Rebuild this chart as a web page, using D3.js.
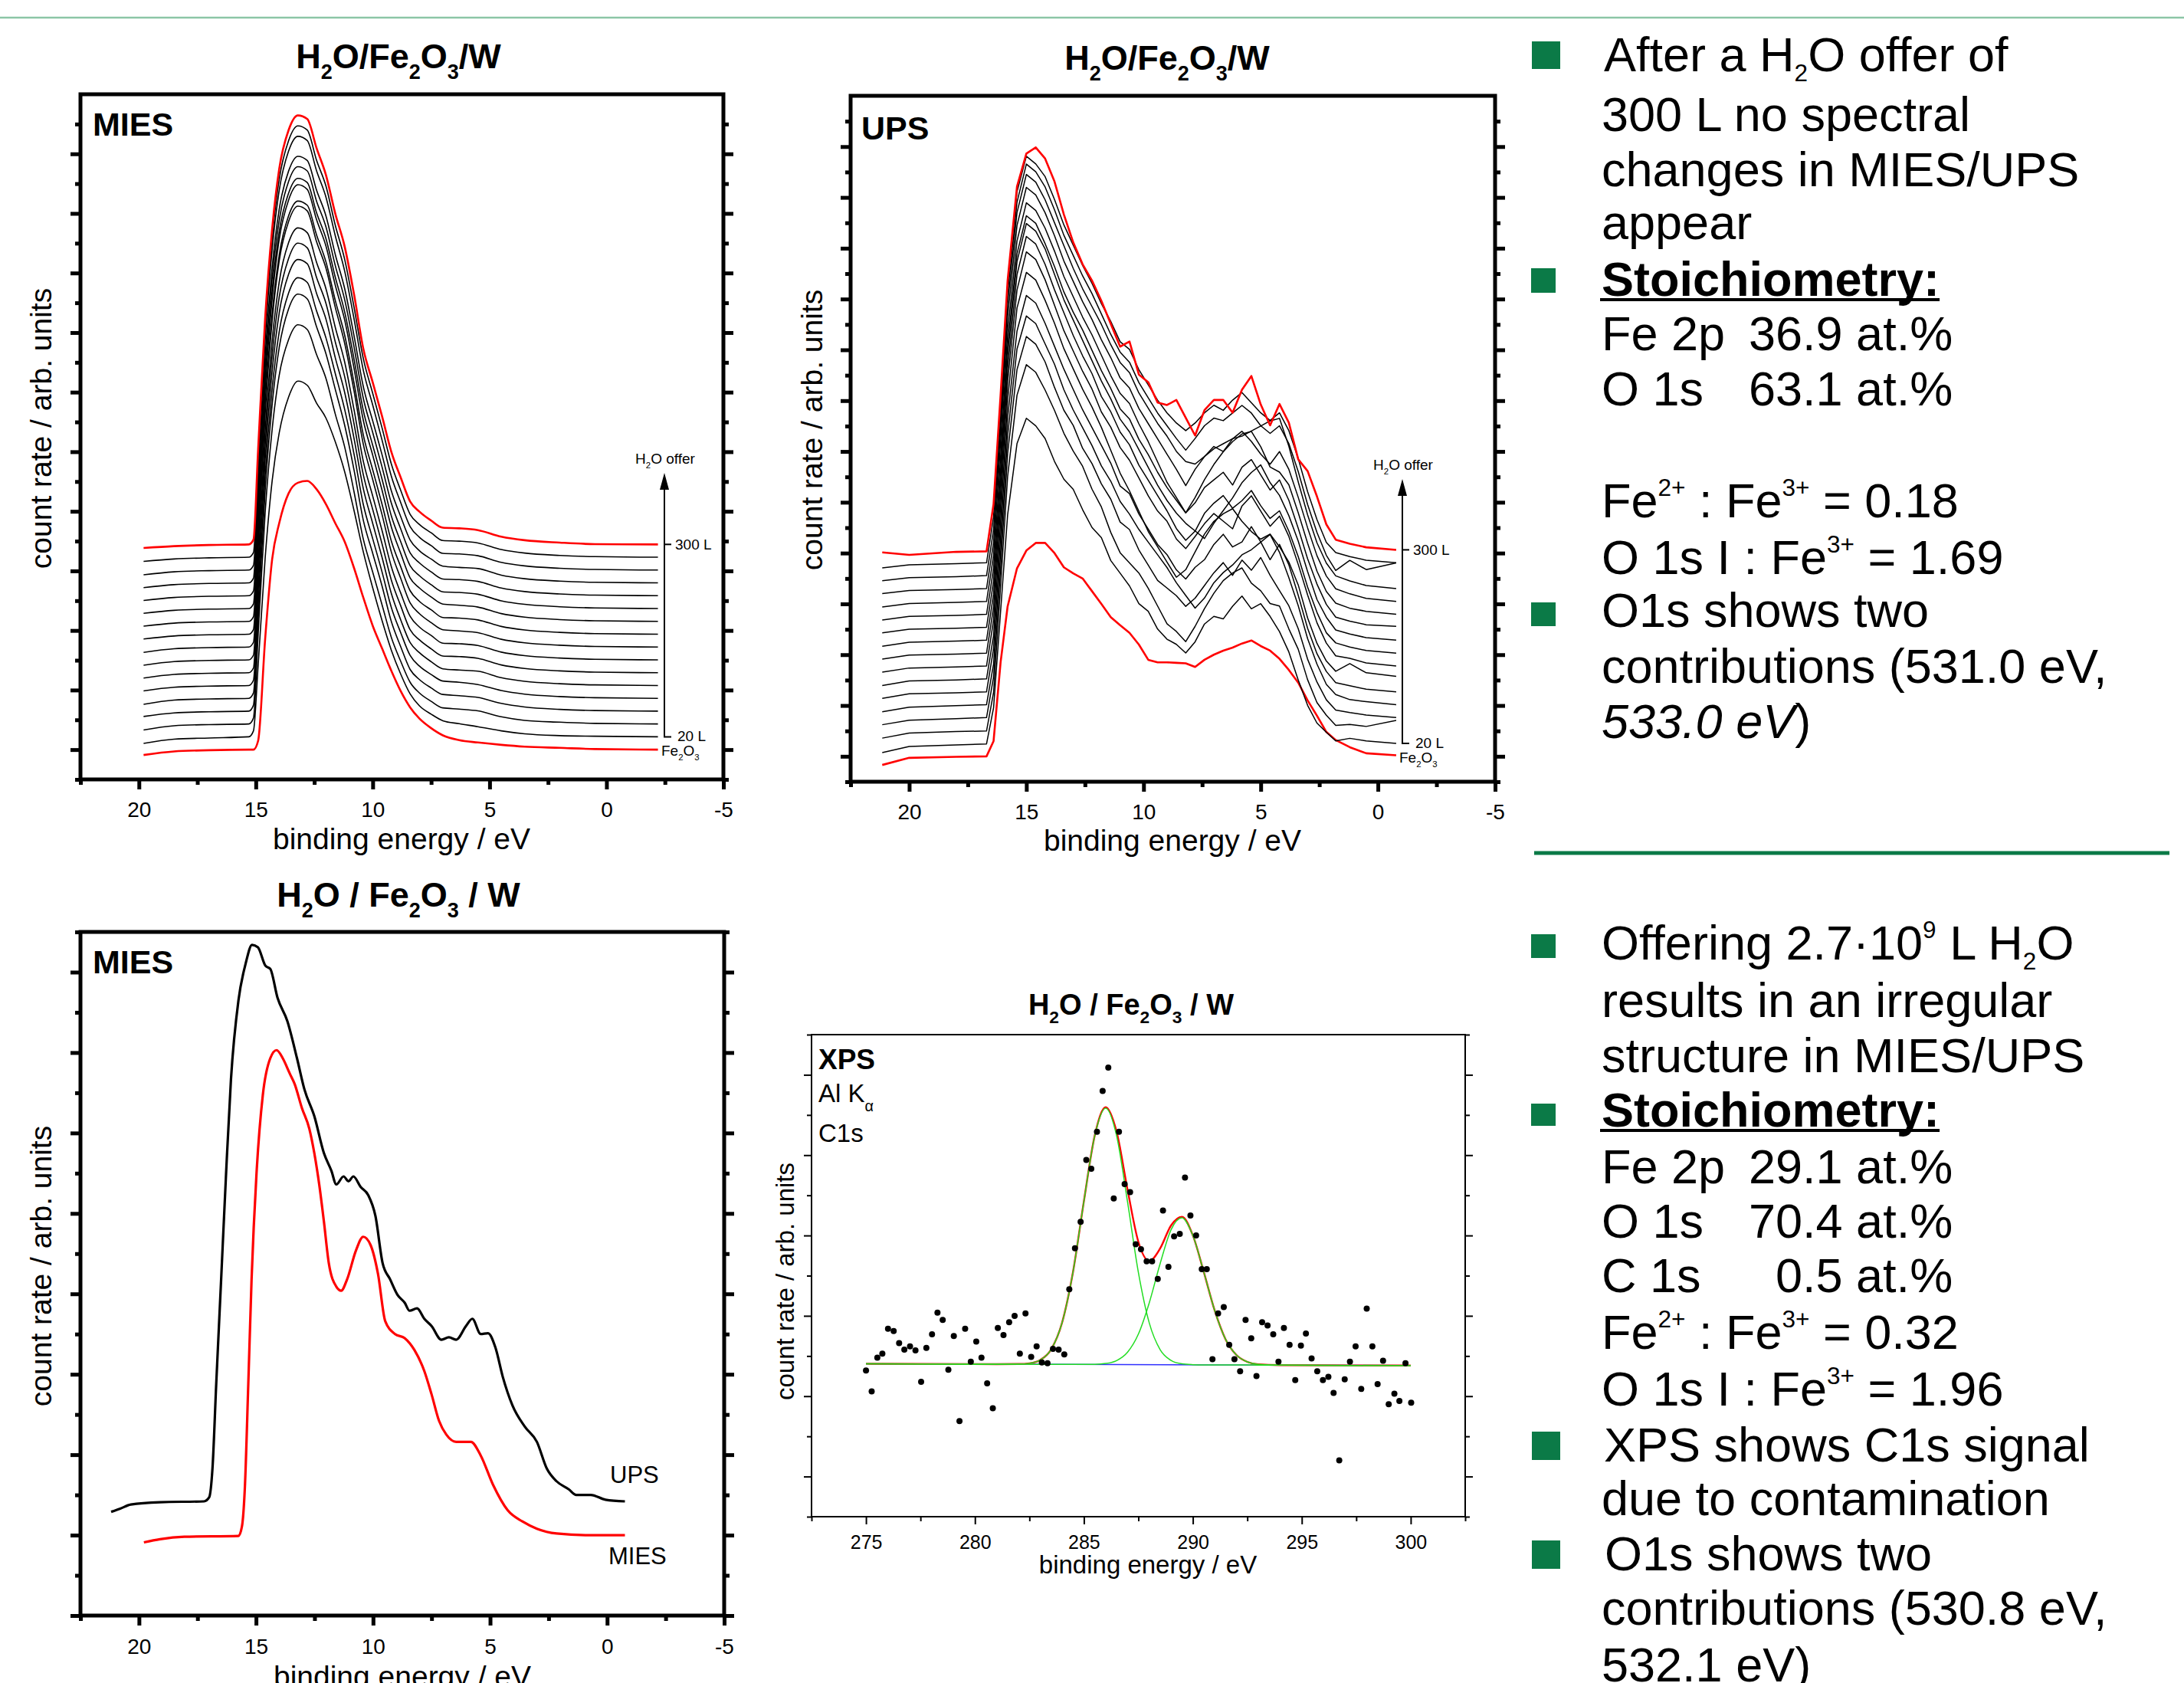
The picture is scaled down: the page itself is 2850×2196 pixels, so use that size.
<!DOCTYPE html>
<html>
<head>
<meta charset="utf-8">
<script src="https://cdn.jsdelivr.net/npm/d3@7"></script>
<style>
  html, body { margin: 0; padding: 0; background: #fff; }
  svg { display: block; }
</style>
</head>
<body>
<svg id="slide" width="2850" height="2196"></svg>
<script>
// ---------------------------------------------------------------------------
// Data: MIES series of H2O offers on Fe2O3/W (intensity above each baseline,
// in units of the major y tick); the spectra are stacked with a fixed step.
// ---------------------------------------------------------------------------
const miesEnergy = [19.8, 18.5, 17, 15.3, 15.1, 14.9, 14.6, 14.3, 14.0, 13.6, 13.2, 12.8, 12.4, 12.0, 11.6, 11.2, 10.8, 10.4, 10.0, 9.6, 9.2, 8.8, 8.4, 8.0, 7.5, 7.0, 6.3, 5.5, 4.5, 3.5, 2.0, 0.5, -2.2];
const miesFe2O3 = [-0.09, -0.03, -0.01, 0, 0, 0.15, 1.86, 3.2, 3.8, 4.3, 4.48, 4.51, 4.37, 4.12, 3.80, 3.49, 3.05, 2.55, 2.08, 1.70, 1.32, 0.98, 0.71, 0.52, 0.36, 0.24, 0.16, 0.12, 0.08, 0.05, 0.03, 0.01, 0];
const miesOffers = [
  [-0.11, -0.04, -0.02, 0, 0.1, 1.2, 3.0, 4.3, 5.1, 5.7, 5.97, 5.9, 5.6, 5.35, 4.95, 4.45, 3.8, 3.1, 2.5, 1.95, 1.45, 1.05, 0.72, 0.52, 0.38, 0.27, 0.22, 0.17, 0.1, 0.05, 0.02, 0.01, 0],
  [-0.10, -0.03, -0.01, 0, 0.1, 1.5, 3.55, 4.95, 5.85, 6.45, 6.70, 6.62, 6.2, 5.8, 5.2, 4.65, 3.9, 3.1, 2.55, 2.0, 1.45, 1.05, 0.7, 0.52, 0.38, 0.27, 0.25, 0.22, 0.12, 0.06, 0.03, 0.01, 0],
  [-0.09, -0.03, -0.01, 0, 0.1, 1.55, 3.7, 5.15, 6.1, 6.75, 7.0, 6.92, 6.45, 6.0, 5.4, 4.8, 4.05, 3.2, 2.65, 2.1, 1.5, 1.08, 0.7, 0.53, 0.39, 0.28, 0.26, 0.23, 0.13, 0.07, 0.03, 0.01, 0],
  [-0.10, -0.03, -0.01, 0, 0.09, 1.55, 3.75, 5.2, 6.15, 6.8, 7.06, 6.98, 6.5, 6.05, 5.45, 4.85, 4.1, 3.25, 2.68, 2.12, 1.52, 1.1, 0.72, 0.54, 0.4, 0.29, 0.27, 0.23, 0.13, 0.07, 0.03, 0.01, 0],
  [-0.09, -0.03, -0.01, 0, 0.09, 1.58, 3.8, 5.28, 6.25, 6.9, 7.15, 7.08, 6.58, 6.15, 5.5, 4.92, 4.15, 3.3, 2.72, 2.15, 1.54, 1.1, 0.72, 0.55, 0.4, 0.28, 0.26, 0.24, 0.13, 0.07, 0.03, 0.01, 0],
  [-0.09, -0.03, -0.01, 0, 0.08, 1.6, 3.82, 5.33, 6.3, 6.95, 7.21, 7.13, 6.63, 6.2, 5.55, 4.97, 4.18, 3.32, 2.74, 2.16, 1.55, 1.12, 0.72, 0.55, 0.4, 0.28, 0.27, 0.24, 0.13, 0.07, 0.03, 0.01, 0],
  [-0.09, -0.03, -0.01, 0, 0.08, 1.6, 3.84, 5.36, 6.34, 7.0, 7.25, 7.17, 6.67, 6.23, 5.58, 5.0, 4.2, 3.33, 2.75, 2.17, 1.56, 1.12, 0.73, 0.55, 0.41, 0.28, 0.27, 0.24, 0.13, 0.07, 0.03, 0.01, 0],
  [-0.09, -0.03, -0.01, 0, 0.08, 1.63, 3.92, 5.48, 6.48, 7.14, 7.40, 7.32, 6.8, 6.36, 5.7, 5.1, 4.3, 3.4, 2.81, 2.22, 1.59, 1.15, 0.74, 0.56, 0.41, 0.29, 0.27, 0.24, 0.13, 0.07, 0.03, 0.01, 0],
  [-0.08, -0.03, -0.01, 0, 0.08, 1.6, 3.85, 5.38, 6.36, 7.02, 7.27, 7.2, 6.7, 6.25, 5.6, 5.02, 4.22, 3.34, 2.76, 2.18, 1.56, 1.13, 0.73, 0.55, 0.41, 0.28, 0.27, 0.24, 0.13, 0.07, 0.03, 0.01, 0],
  [-0.08, -0.03, -0.01, 0, 0.08, 1.61, 3.88, 5.42, 6.41, 7.07, 7.33, 7.25, 6.74, 6.3, 5.64, 5.06, 4.25, 3.37, 2.79, 2.2, 1.58, 1.14, 0.73, 0.56, 0.41, 0.29, 0.27, 0.24, 0.13, 0.07, 0.03, 0.01, 0],
  [-0.08, -0.03, -0.01, 0, 0.08, 1.59, 3.83, 5.34, 6.32, 6.97, 7.22, 7.15, 6.64, 6.21, 5.56, 4.98, 4.19, 3.32, 2.74, 2.17, 1.55, 1.12, 0.72, 0.55, 0.4, 0.28, 0.27, 0.24, 0.13, 0.07, 0.03, 0.01, 0],
  [-0.08, -0.03, -0.01, 0, 0.08, 1.58, 3.82, 5.33, 6.3, 6.95, 7.2, 7.13, 6.62, 6.19, 5.54, 4.97, 4.18, 3.31, 2.74, 2.16, 1.55, 1.12, 0.72, 0.55, 0.4, 0.28, 0.27, 0.24, 0.13, 0.07, 0.03, 0.01, 0],
  [-0.08, -0.03, -0.01, 0, 0.08, 1.58, 3.8, 5.3, 6.27, 6.91, 7.16, 7.09, 6.59, 6.16, 5.51, 4.94, 4.15, 3.29, 2.72, 2.15, 1.54, 1.11, 0.72, 0.54, 0.4, 0.28, 0.26, 0.24, 0.13, 0.07, 0.03, 0.01, 0],
  [-0.08, -0.03, -0.01, 0, 0.08, 1.6, 3.86, 5.39, 6.37, 7.03, 7.28, 7.21, 6.7, 6.26, 5.61, 5.02, 4.22, 3.35, 2.77, 2.18, 1.57, 1.13, 0.73, 0.55, 0.41, 0.28, 0.27, 0.24, 0.13, 0.07, 0.03, 0.01, 0],
  [-0.07, -0.03, -0.01, 0, 0.08, 1.6, 3.84, 5.36, 6.34, 6.99, 7.24, 7.17, 6.66, 6.23, 5.57, 5.0, 4.2, 3.33, 2.75, 2.17, 1.56, 1.12, 0.72, 0.55, 0.41, 0.28, 0.27, 0.24, 0.13, 0.07, 0.03, 0.01, 0]
];
const mies300L = [-0.06, -0.03, -0.01, 0, 0.08, 1.6, 3.8, 5.3, 6.3, 6.95, 7.2, 7.14, 6.65, 6.2, 5.55, 5.0, 4.2, 3.28, 2.72, 2.15, 1.55, 1.12, 0.72, 0.55, 0.4, 0.28, 0.27, 0.24, 0.13, 0.07, 0.03, 0.005, 0];
const miesStackStep = 0.2153;

// UPS series of the same H2O offers
const upsEnergy = [21.15, 20.0, 18.0, 16.7, 16.4, 16.1, 15.8, 15.4, 15.0, 14.6, 14.2, 13.8, 13.4, 13.0, 12.6, 12.2, 11.8, 11.4, 11.0, 10.6, 10.2, 9.8, 9.4, 9.0, 8.6, 8.2, 7.8, 7.4, 7.0, 6.6, 6.2, 5.8, 5.4, 5.0, 4.6, 4.2, 3.8, 3.4, 3.0, 2.6, 2.2, 1.8, 1.2, 0.5, -0.78];
const upsFe2O3 = [-0.17, -0.03, -0.01, 0, 0.3, 1.85, 2.95, 3.7, 4.05, 4.2, 4.2, 4.0, 3.72, 3.6, 3.5, 3.25, 3.0, 2.74, 2.58, 2.43, 2.2, 1.9, 1.85, 1.85, 1.84, 1.83, 1.76, 1.9, 2.0, 2.08, 2.14, 2.22, 2.28, 2.17, 2.08, 1.92, 1.7, 1.45, 1.1, 0.8, 0.48, 0.32, 0.18, 0.06, 0.02];
const upsOffers = [
  [-0.18, -0.06, -0.03, -0.01, 0.7, 2.6, 4.5, 5.9, 6.4, 6.25, 6.0, 5.55, 5.2, 5.0, 4.6, 4.25, 4.05, 3.6, 3.35, 3.1, 2.75, 2.6, 2.25, 2.05, 1.95, 1.78, 2.0, 2.35, 2.5, 2.45, 2.7, 2.9, 2.65, 2.75, 2.5, 2.2, 1.8, 1.25, 0.75, 0.4, 0.22, 0.05, 0.1, 0.05, 0],
  [-0.15, -0.05, -0.02, -0.01, 0.75, 2.85, 5.0, 6.6, 7.2, 7.05, 6.7, 6.3, 5.85, 5.5, 5.2, 4.75, 4.4, 3.9, 3.5, 3.3, 3.1, 2.8, 2.45, 2.1, 1.95, 1.75, 2.05, 2.4, 2.7, 2.95, 3.1, 3.2, 2.9, 2.75, 2.5, 2.45, 2.0, 1.6, 1.0, 0.55, 0.3, 0.1, 0.12, 0.08, 0.2],
  [-0.14, -0.05, -0.02, 0, 0.8, 2.95, 5.2, 6.85, 7.5, 7.35, 7.0, 6.5, 6.05, 5.75, 5.3, 5.0, 4.6, 4.3, 3.85, 3.7, 3.3, 3.0, 2.7, 2.55, 2.4, 2.19, 2.35, 2.6, 2.85, 3.05, 2.8, 3.1, 2.9, 3.15, 2.8, 2.5, 2.2, 1.75, 1.15, 0.7, 0.35, 0.15, 0.1, 0.05, 0],
  [-0.14, -0.05, -0.02, 0, 0.8, 3.0, 5.3, 7.0, 7.65, 7.5, 7.1, 6.7, 6.2, 5.8, 5.45, 5.1, 4.7, 4.4, 4.0, 3.75, 3.45, 3.2, 2.95, 2.7, 2.4, 2.15, 1.9, 2.1, 2.4, 2.6, 2.75, 2.95, 3.05, 3.2, 3.35, 3.0, 2.5, 1.95, 1.3, 0.8, 0.4, 0.2, 0.1, 0.06, 0],
  [-0.13, -0.04, -0.02, 0, 0.85, 3.05, 5.4, 7.1, 7.8, 7.65, 7.25, 6.8, 6.35, 5.95, 5.55, 5.2, 4.85, 4.5, 4.05, 3.9, 3.5, 3.2, 2.9, 2.7, 2.4, 2.22, 2.45, 2.6, 2.9, 3.1, 2.85, 2.95, 3.25, 2.95, 2.6, 2.9, 2.5, 1.9, 1.25, 0.75, 0.4, 0.18, 0.12, 0.05, 0],
  [-0.13, -0.04, -0.02, 0, 0.85, 3.1, 5.5, 7.3, 8.0, 7.85, 7.45, 7.0, 6.5, 6.1, 5.7, 5.35, 4.95, 4.5, 4.05, 3.7, 3.3, 2.9, 2.6, 2.3, 2.0, 2.15, 2.5, 2.85, 3.1, 3.25, 3.35, 3.1, 2.9, 2.75, 2.85, 2.6, 2.3, 1.85, 1.2, 0.7, 0.35, 0.15, 0.3, 0.12, 0.05],
  [-0.12, -0.04, -0.02, 0, 0.9, 3.15, 5.6, 7.4, 8.15, 8.0, 7.6, 7.1, 6.6, 6.2, 5.8, 5.45, 5.0, 4.7, 4.3, 4.05, 3.7, 3.35, 3.05, 2.85, 2.5, 2.31, 2.55, 2.8, 3.0, 2.85, 2.7, 3.15, 3.35, 3.05, 2.75, 2.95, 2.55, 2.0, 1.4, 0.85, 0.45, 0.2, 0.15, 0.06, 0],
  [-0.12, -0.04, -0.02, 0, 0.9, 3.15, 5.6, 7.45, 8.2, 8.05, 7.65, 7.15, 6.7, 6.25, 5.85, 5.5, 5.05, 4.75, 4.35, 4.1, 3.7, 3.4, 3.1, 2.8, 2.45, 2.22, 2.4, 2.75, 2.95, 3.1, 2.85, 3.0, 3.2, 2.9, 2.65, 2.8, 2.4, 1.9, 1.3, 0.8, 0.4, 0.2, 0.12, 0.05, 0],
  [-0.12, -0.04, -0.02, 0, 0.9, 3.15, 5.6, 7.45, 8.2, 8.05, 7.7, 7.2, 6.7, 6.3, 5.9, 5.5, 5.1, 4.75, 4.35, 4.1, 3.75, 3.4, 3.05, 2.75, 2.5, 2.3, 2.15, 2.0, 2.3, 2.55, 2.8, 3.1, 3.3, 3.45, 3.1, 2.85, 2.45, 1.95, 1.35, 0.8, 0.45, 0.2, 0.12, 0.05, 0],
  [-0.11, -0.04, -0.02, 0, 0.9, 3.1, 5.55, 7.35, 8.1, 7.95, 7.55, 7.1, 6.6, 6.2, 5.85, 5.45, 5.05, 4.7, 4.3, 4.1, 3.7, 3.4, 3.05, 2.75, 2.5, 2.25, 2.45, 2.75, 2.9, 3.05, 2.8, 3.15, 3.3, 3.0, 2.7, 2.9, 2.5, 1.95, 1.35, 0.85, 0.45, 0.2, 0.12, 0.05, 0.02],
  [-0.11, -0.04, -0.02, 0, 0.9, 3.1, 5.55, 7.35, 8.1, 7.95, 7.6, 7.15, 6.65, 6.25, 5.85, 5.5, 5.1, 4.7, 4.35, 4.15, 3.75, 3.4, 3.0, 2.6, 2.3, 2.0, 2.3, 2.65, 2.95, 3.2, 3.4, 3.55, 3.6, 3.3, 2.9, 2.8, 2.55, 2.0, 1.4, 0.85, 0.45, 0.22, 0.12, 0.06, 0],
  [-0.11, -0.04, -0.02, 0, 0.9, 3.15, 5.6, 7.4, 8.15, 8.0, 7.65, 7.2, 6.7, 6.3, 5.9, 5.55, 5.15, 4.8, 4.4, 4.2, 3.8, 3.5, 3.2, 2.9, 2.6, 2.28, 2.6, 2.85, 3.05, 2.95, 3.2, 3.35, 3.15, 2.9, 2.7, 2.95, 2.6, 2.05, 1.45, 0.9, 0.5, 0.25, 0.15, 0.06, 0],
  [-0.1, -0.04, -0.02, 0, 0.9, 3.15, 5.6, 7.4, 8.15, 8.0, 7.65, 7.2, 6.75, 6.3, 5.9, 5.55, 5.2, 4.8, 4.45, 4.25, 3.85, 3.55, 3.25, 3.0, 2.7, 2.5, 2.45, 2.6, 2.75, 2.85, 2.95, 3.0, 3.1, 3.2, 3.3, 3.35, 2.8, 2.1, 1.45, 0.9, 0.5, 0.25, 0.15, 0.06, 0],
  [-0.1, -0.04, -0.02, 0, 0.9, 3.1, 5.55, 7.35, 8.1, 7.95, 7.65, 7.2, 6.7, 6.3, 5.9, 5.55, 5.15, 4.75, 4.4, 4.2, 3.8, 3.5, 3.2, 2.95, 2.7, 2.47, 2.7, 2.95, 3.1, 3.05, 3.2, 3.35, 3.2, 2.95, 2.8, 2.95, 2.6, 2.05, 1.4, 0.85, 0.4, 0.1, 0.3, 0.12, 0.25],
  [-0.1, -0.04, -0.02, 0, 0.9, 3.1, 5.5, 7.3, 8.0, 7.85, 7.6, 7.15, 6.65, 6.25, 5.85, 5.5, 5.1, 4.75, 4.35, 4.2, 3.8, 3.5, 3.2, 2.95, 2.75, 2.6, 2.75, 2.95, 3.1, 3.0, 3.2, 3.35, 3.15, 2.95, 2.8, 2.95, 2.6, 2.05, 1.4, 0.85, 0.4, 0.2, 0.12, 0.05, 0]
];
const ups300L = [-0.05, -0.10, -0.04, -0.03, 0.9, 3.05, 5.3, 7.15, 7.8, 7.92, 7.7, 7.25, 6.6, 6.05, 5.62, 5.3, 4.9, 4.45, 4.0, 4.1, 3.45, 3.3, 2.9, 2.85, 2.95, 2.6, 2.25, 2.75, 2.95, 2.95, 2.7, 3.15, 3.42, 2.86, 2.45, 2.87, 2.5, 1.78, 1.55, 1.05, 0.5, 0.2, 0.12, 0.05, 0];
const upsStackStep = 0.254;

// MIES and UPS after 2.7e9 L H2O: [binding energy, intensity]
const compareUPS = [[21.19,1.29],[20.8,1.33],[20.35,1.38],[19.1,1.41],[17.22,1.42],[17.0,1.47],[16.86,1.83],[16.7,2.88],[16.49,4.18],[16.28,5.49],[16.07,6.67],[15.75,7.65],[15.44,8.11],[15.17,8.34],[14.92,8.31],[14.6,8.08],[14.39,8.04],[14.08,7.68],[13.66,7.39],[13.25,6.93],[12.93,6.54],[12.51,6.21],[12.10,5.75],[11.78,5.53],[11.57,5.36],[11.26,5.46],[11.05,5.40],[10.84,5.46],[10.53,5.33],[10.21,5.23],[9.90,4.97],[9.59,4.38],[9.27,4.18],[8.96,3.99],[8.65,3.89],[8.44,3.79],[8.12,3.82],[7.81,3.69],[7.50,3.60],[7.08,3.43],[6.76,3.46],[6.45,3.43],[6.03,3.60],[5.76,3.69],[5.40,3.50],[5.09,3.51],[4.77,3.33],[4.46,2.97],[4.04,2.61],[3.52,2.35],[3.0,2.16],[2.58,1.83],[2.16,1.67],[1.64,1.57],[1.32,1.50],[0.70,1.50],[0.07,1.44],[-0.76,1.42]];
const compareMIES = [[19.79,0.91],[19.1,0.95],[18.06,0.98],[15.75,0.99],[15.6,1.11],[15.48,1.57],[15.33,2.88],[15.19,4.18],[14.98,5.49],[14.71,6.47],[14.39,6.93],[14.12,7.03],[13.86,6.93],[13.56,6.74],[13.35,6.61],[13.04,6.31],[12.72,6.05],[12.51,5.75],[12.30,5.36],[12.10,4.90],[11.89,4.38],[11.57,4.09],[11.36,4.04],[11.11,4.18],[10.73,4.54],[10.42,4.71],[10.11,4.61],[9.79,4.25],[9.48,3.66],[9.06,3.50],[8.65,3.45],[8.23,3.30],[7.81,3.04],[7.50,2.75],[7.18,2.42],[6.87,2.25],[6.45,2.16],[5.82,2.16],[5.40,1.99],[4.88,1.63],[4.25,1.31],[3.62,1.17],[3.0,1.08],[2.16,1.02],[0.91,1.0],[-0.76,1.0]];

// XPS C1s: measured points and fit (background, two components, sum)
const xpsEnergy = [275.00, 275.26, 275.52, 275.75, 276.01, 276.27, 276.52, 276.76, 277.02, 277.27, 277.53, 277.77, 278.03, 278.28, 278.52, 278.78, 279.03, 279.29, 279.55, 279.81, 280.06, 280.30, 280.56, 280.82, 281.05, 281.31, 281.57, 281.82, 282.06, 282.32, 282.58, 282.83, 283.07, 283.33, 283.58, 283.84, 284.10, 284.33, 284.59, 284.85, 285.11, 285.34, 285.60, 285.86, 286.12, 286.37, 286.61, 286.87, 287.12, 287.38, 287.62, 287.88, 288.13, 288.39, 288.63, 288.88, 289.14, 289.40, 289.64, 289.89, 290.15, 290.41, 290.64, 290.90, 291.16, 291.42, 291.67, 291.91, 292.17, 292.42, 292.68, 292.92, 293.18, 293.43, 293.69, 293.93, 294.18, 294.44, 294.70, 294.96, 295.19, 295.45, 295.71, 295.97, 296.22, 296.46, 296.72, 296.97, 297.21, 297.47, 297.73, 297.98, 298.24, 298.48, 298.73, 298.99, 299.25, 299.48, 299.76, 300.02];
const xpsCounts = [1.32, 1.06, 1.48, 1.53, 1.84, 1.81, 1.66, 1.58, 1.62, 1.57, 1.18, 1.60, 1.77, 2.04, 1.95, 1.33, 1.75, 0.69, 1.84, 1.43, 1.68, 1.48, 1.16, 0.85, 1.85, 1.76, 1.92, 2.00, 1.53, 2.03, 1.49, 1.62, 1.42, 1.41, 1.59, 1.58, 1.52, 2.33, 2.84, 3.17, 3.94, 3.83, 4.29, 4.80, 5.09, 3.46, 4.29, 3.64, 3.54, 2.89, 2.83, 2.68, 2.68, 2.46, 3.31, 2.61, 2.99, 3.02, 3.72, 3.25, 3.00, 2.58, 2.58, 1.46, 2.03, 2.11, 1.64, 1.46, 1.31, 1.95, 1.72, 1.25, 1.92, 1.88, 1.77, 1.43, 1.85, 1.64, 1.20, 1.63, 1.78, 1.47, 1.31, 1.20, 1.24, 1.04, 0.20, 1.21, 1.43, 1.62, 1.09, 2.09, 1.62, 1.15, 1.44, 0.90, 1.03, 0.94, 1.41, 0.92];
const fitEnergy = [275, 281, 282, 282.5, 283, 283.5, 284, 284.5, 285, 285.5, 286, 286.5, 287, 287.5, 288, 288.5, 289, 289.5, 290, 290.5, 291, 291.5, 292, 292.5, 293, 294, 300];
const fitPeak1 = [1.404, 1.398, 1.400, 1.409, 1.451, 1.584, 1.916, 2.545, 3.425, 4.244, 4.584, 4.243, 3.423, 2.542, 1.912, 1.579, 1.445, 1.402, 1.392, 1.389, 1.389, 1.389, 1.388, 1.388, 1.387, 1.386, 1.381];
const fitPeak2 = [1.404, 1.398, 1.398, 1.397, 1.397, 1.396, 1.396, 1.395, 1.396, 1.397, 1.407, 1.443, 1.546, 1.772, 2.162, 2.651, 3.071, 3.220, 3.000, 2.549, 2.069, 1.709, 1.513, 1.427, 1.397, 1.387, 1.381];
const fitSum = [1.404, 1.398, 1.400, 1.409, 1.451, 1.584, 1.916, 2.545, 3.426, 4.247, 4.597, 4.293, 3.576, 2.922, 2.682, 2.839, 3.125, 3.232, 3.002, 2.549, 2.069, 1.709, 1.513, 1.427, 1.397, 1.387, 1.381];
const fitBackground = [[275, 1.404], [300, 1.381]];

// Axis ticks
const beMajor = [20, 15, 10, 5, 0, -5];
const beMinor = [22.5, 17.5, 12.5, 7.5, 2.5, -2.5];
const xpsMajor = [275, 280, 285, 290, 295, 300];
const xpsMinor = [272.5, 277.5, 282.5, 287.5, 292.5, 297.5, 302.5];

// ---------------------------------------------------------------------------
const FONT = '"Liberation Sans", Arial, Helvetica, sans-serif';
const GREEN = '#0b7a47';
const svg = d3.select('#slide').attr('font-family', FONT);

// text with sub/superscript and italic runs
function rich(g, x, y, parts, size, opt = {}) {
  const t = g.append('text').attr('x', x).attr('y', y).attr('font-size', size)
    .attr('fill', '#000').attr('font-family', FONT);
  if (opt.anchor) t.attr('text-anchor', opt.anchor);
  if (opt.weight) t.attr('font-weight', opt.weight);
  const sub = opt.sub || [0.6, 0.3], sup = opt.sup || [0.5, -0.45];
  let shift = 0;
  parts.forEach(p => {
    const [s, kind] = Array.isArray(p) ? p : [p, null];
    let target = 0, fs = size;
    if (kind === 'sub') { target = size * sub[1]; fs = size * sub[0]; }
    if (kind === 'sup') { target = size * sup[1]; fs = size * sup[0]; }
    const ts = t.append('tspan').text(s).attr('font-size', fs);
    if (target - shift !== 0) ts.attr('dy', target - shift);
    if (kind === 'i') ts.attr('font-style', 'italic');
    shift = target;
  });
  return t;
}

// framed plot with outward major/minor ticks on bottom, left and right
function framedAxes(cfg) {
  const x = d3.scaleLinear().domain(cfg.xDomain).range([cfg.x0, cfg.x1]);
  const y = d3.scaleLinear().domain(cfg.yDomain).range([cfg.y1, cfg.y0]);
  const g = svg.append('g');
  const styleTicks = s => {
    s.attr('font-family', FONT);
    s.select('.domain').remove();
    s.selectAll('line').attr('stroke', '#000').attr('stroke-width', cfg.lw);
  };
  g.append('g').attr('transform', `translate(0,${cfg.y1})`)
    .call(d3.axisBottom(x).tickValues(cfg.xMajor).tickSize(cfg.majLen).tickFormat(d => String(d)))
    .call(styleTicks)
    .call(s => s.selectAll('text').attr('y', cfg.labelY - cfg.y1).attr('dy', null)
      .attr('font-size', cfg.tickFont).attr('fill', '#000'));
  g.append('g').attr('transform', `translate(0,${cfg.y1})`)
    .call(d3.axisBottom(x).tickValues(cfg.xMinor).tickSize(cfg.minLen).tickFormat(''))
    .call(styleTicks);
  [[d3.axisLeft, cfg.x0], [d3.axisRight, cfg.x1]].forEach(([ax, pos]) => {
    g.append('g').attr('transform', `translate(${pos},0)`)
      .call(ax(y).tickValues(cfg.yMajor).tickSize(cfg.majLen).tickFormat(''))
      .call(styleTicks);
    g.append('g').attr('transform', `translate(${pos},0)`)
      .call(ax(y).tickValues(cfg.yMinor).tickSize(cfg.minLen).tickFormat(''))
      .call(styleTicks);
  });
  g.append('rect').attr('x', cfg.x0).attr('y', cfg.y0)
    .attr('width', cfg.x1 - cfg.x0).attr('height', cfg.y1 - cfg.y0)
    .attr('fill', 'none').attr('stroke', '#000').attr('stroke-width', cfg.lw);
  return { x, y, g };
}

function halfSteps(a, b) { const out = []; for (let v = a; v <= b + 1e-9; v += 1) out.push(v); return out; }

// stacked spectra panel (MIES / UPS)
function stackedPanel(cfg, energy, bottom, offers, top, step, curve, blackW, redW) {
  const { x, y, g } = framedAxes(cfg);
  const line = offs => d3.line().curve(curve).x(d => x(d[0])).y(d => y(d[1] + offs));
  const draw = (vals, k, color, w) => g.append('path')
    .attr('d', line(k * step)(d3.zip(energy, vals)))
    .attr('fill', 'none').attr('stroke', color).attr('stroke-width', w).attr('stroke-linejoin', 'round');
  draw(bottom, 0, '#ff0000', redW);
  offers.forEach((vals, i) => draw(vals, i + 1, '#000', blackW));
  draw(top, offers.length + 1, '#ff0000', redW);
  return { x, y, g };
}

// ---------------------------------------------------------------------------
// slide header rule
svg.append('line').attr('x1', 0).attr('x2', 2850).attr('y1', 23).attr('y2', 23)
  .attr('stroke', '#8cc6a6').attr('stroke-width', 2.5);

// ----- Panel A: MIES stack -----
const cfgA = { x0: 105, x1: 944, y0: 123, y1: 1017, xDomain: [22.5, -5], yDomain: [-0.5, 11],
  xMajor: beMajor, xMinor: beMinor, yMajor: halfSteps(0, 10), yMinor: halfSteps(-0.5, 10.5),
  lw: 5, majLen: 13, minLen: 7, tickFont: 28, labelY: 1066 };
const A = stackedPanel(cfgA, miesEnergy, miesFe2O3, miesOffers, mies300L, miesStackStep, d3.curveMonotoneX, 1.6, 2.6);
rich(svg, 520, 89, ['H', ['2', 'sub'], 'O/Fe', ['2', 'sub'], 'O', ['3', 'sub'], '/W'], 45, { anchor: 'middle', weight: 'bold' });
rich(svg, 121, 177, ['MIES'], 43, { weight: 'bold' });
rich(svg, 524, 1108, ['binding energy / eV'], 39, { anchor: 'middle' });
rich(svg, 0, 0, ['count rate / arb. units'], 39, { anchor: 'middle' }).attr('transform', 'translate(67,559) rotate(-90)');

// ----- Panel B: UPS stack -----
const cfgB = { x0: 1110, x1: 1951, y0: 125, y1: 1020, xDomain: [22.5, -5], yDomain: [-0.5, 13],
  xMajor: beMajor, xMinor: beMinor, yMajor: halfSteps(0, 12), yMinor: halfSteps(-0.5, 12.5),
  lw: 5, majLen: 13, minLen: 7, tickFont: 28, labelY: 1069 };
const B = stackedPanel(cfgB, upsEnergy, upsFe2O3, upsOffers, ups300L, upsStackStep, d3.curveLinear, 1.5, 2.6);
rich(svg, 1523, 91, ['H', ['2', 'sub'], 'O/Fe', ['2', 'sub'], 'O', ['3', 'sub'], '/W'], 45, { anchor: 'middle', weight: 'bold' });
rich(svg, 1124, 182, ['UPS'], 43, { weight: 'bold' });
rich(svg, 1530, 1110, ['binding energy / eV'], 39, { anchor: 'middle' });
rich(svg, 0, 0, ['count rate / arb. units'], 39, { anchor: 'middle' }).attr('transform', 'translate(1073,561) rotate(-90)');

// offer arrows (from first offer to 300 L)
function offerArrow(P, ax, bottomIdx, topIdx, step, lab) {
  const g = svg.append('g');
  const yTop = P.y(topIdx * step), yBot = P.y(bottomIdx * step);
  g.append('path').attr('d', `M${ax + 9},${yBot} H${ax} V${lab.tipY + 20}`)
    .attr('fill', 'none').attr('stroke', '#000').attr('stroke-width', 2);
  g.append('path').attr('d', `M${ax},${lab.tipY} L${ax - 6},${lab.tipY + 22} L${ax + 6},${lab.tipY + 22} Z`).attr('fill', '#000');
  g.append('line').attr('x1', ax).attr('x2', ax + 9).attr('y1', yTop).attr('y2', yTop)
    .attr('stroke', '#000').attr('stroke-width', 2);
  rich(g, ax + 14, yTop + 7, ['300 L'], 19);
  rich(g, ax + 17, yBot + 6, ['20 L'], 19);
  rich(g, ax - 4, yBot + 25, ['Fe', ['2', 'sub'], 'O', ['3', 'sub']], 19);
  rich(g, ax + 1, lab.tipY - 12, ['H', ['2', 'sub'], 'O offer'], 19, { anchor: 'middle' });
}
offerArrow(A, 867, 1, 16, miesStackStep, { tipY: 617 });
offerArrow(B, 1830, 1, 16, upsStackStep, { tipY: 625 });

// ----- Panel C: MIES vs UPS after large H2O exposure -----
const cfgC = { x0: 105, x1: 945, y0: 1216, y1: 2108, xDomain: [22.5, -5], yDomain: [0, 8.5],
  xMajor: beMajor, xMinor: beMinor, yMajor: halfSteps(0, 8), yMinor: halfSteps(0.5, 8.5),
  lw: 5, majLen: 13, minLen: 7, tickFont: 28, labelY: 2158 };
const C = framedAxes(cfgC);
const lineC = d3.line().curve(d3.curveMonotoneX).x(d => C.x(d[0])).y(d => C.y(d[1]));
C.g.append('path').attr('d', lineC(compareUPS)).attr('fill', 'none').attr('stroke', '#000').attr('stroke-width', 3.2);
C.g.append('path').attr('d', lineC(compareMIES)).attr('fill', 'none').attr('stroke', '#ff0000').attr('stroke-width', 3.2);
rich(svg, 520, 1183, ['H', ['2', 'sub'], 'O / Fe', ['2', 'sub'], 'O', ['3', 'sub'], ' / W'], 45, { anchor: 'middle', weight: 'bold' });
rich(svg, 121, 1270, ['MIES'], 43, { weight: 'bold' });
rich(svg, 796, 1935, ['UPS'], 31);
rich(svg, 794, 2041, ['MIES'], 31);
rich(svg, 525, 2201, ['binding energy / eV'], 39, { anchor: 'middle' });
rich(svg, 0, 0, ['count rate / arb. units'], 39, { anchor: 'middle' }).attr('transform', 'translate(67,1652) rotate(-90)');

// ----- Panel D: XPS C1s -----
const cfgD = { x0: 1059, x1: 1912, y0: 1350, y1: 1979, xDomain: [272.5, 302.5], yDomain: [-0.5, 5.5],
  xMajor: xpsMajor, xMinor: xpsMinor, yMajor: halfSteps(0, 5), yMinor: halfSteps(-0.5, 5.5),
  lw: 2, majLen: 10, minLen: 6, tickFont: 25, labelY: 2021 };
const D = framedAxes(cfgD);
const lineD = d3.line().curve(d3.curveMonotoneX).x(d => D.x(d[0])).y(d => D.y(d[1]));
D.g.append('path').attr('d', lineD(fitBackground)).attr('fill', 'none').attr('stroke', '#3030ff').attr('stroke-width', 1.5);
D.g.append('path').attr('d', lineD(d3.zip(fitEnergy, fitSum))).attr('fill', 'none').attr('stroke', '#ff0000').attr('stroke-width', 2.4);
D.g.append('path').attr('d', lineD(d3.zip(fitEnergy, fitPeak1))).attr('fill', 'none').attr('stroke', '#22dd22').attr('stroke-width', 1.5);
D.g.append('path').attr('d', lineD(d3.zip(fitEnergy, fitPeak2))).attr('fill', 'none').attr('stroke', '#22dd22').attr('stroke-width', 1.5);
D.g.selectAll('circle.pt').data(d3.zip(xpsEnergy, xpsCounts)).join('circle')
  .attr('class', 'pt').attr('cx', d => D.x(d[0])).attr('cy', d => D.y(d[1])).attr('r', 4).attr('fill', '#000');
rich(svg, 1476, 1324, ['H', ['2', 'sub'], 'O / Fe', ['2', 'sub'], 'O', ['3', 'sub'], ' / W'], 38, { anchor: 'middle', weight: 'bold' });
rich(svg, 1068, 1395, ['XPS'], 37, { weight: 'bold' });
rich(svg, 1068, 1438, ['Al K', ['\u03b1', 'sub']], 33, { sub: [0.6, 0.35] });
rich(svg, 1068, 1490, ['C1s'], 33);
rich(svg, 1498, 2053, ['binding energy / eV'], 33, { anchor: 'middle' });
rich(svg, 0, 0, ['count rate / arb. units'], 33, { anchor: 'middle' }).attr('transform', 'translate(1036,1672) rotate(-90)');

// ----- Text column -----
const bullets = [
  { x: 1999, y: 54, w: 37, h: 36 }, { x: 1998, y: 350, w: 32, h: 32 }, { x: 1998, y: 786, w: 32, h: 31 },
  { x: 1998, y: 1219, w: 32, h: 31 }, { x: 1998, y: 1440, w: 32, h: 29 }, { x: 1999, y: 1868, w: 37, h: 37 },
  { x: 1999, y: 2010, w: 37, h: 37 }
];
svg.append('g').selectAll('rect').data(bullets).join('rect')
  .attr('x', d => d.x).attr('y', d => d.y).attr('width', d => d.w).attr('height', d => d.h).attr('fill', GREEN);

const textLines = [
  { x: 2093, y: 93, parts: ['After a H', ['2', 'sub'], 'O offer of'] },
  { x: 2090, y: 171, parts: ['300 L no spectral'] },
  { x: 2090, y: 243, parts: ['changes in MIES/UPS'] },
  { x: 2090, y: 312, parts: ['appear'] },
  { x: 2090, y: 386, parts: ['Stoichiometry:'], bold: true },
  { x: 2090, y: 457, parts: ['Fe 2p'] }, { x: 2282, y: 457, parts: ['36.9 at.%'] },
  { x: 2090, y: 529, parts: ['O 1s'] }, { x: 2282, y: 529, parts: ['63.1 at.%'] },
  { x: 2090, y: 675, parts: ['Fe', ['2+', 'sup'], ' : Fe', ['3+', 'sup'], ' = 0.18'] },
  { x: 2090, y: 749, parts: ['O 1s I : Fe', ['3+', 'sup'], ' = 1.69'] },
  { x: 2090, y: 818, parts: ['O1s shows two'] },
  { x: 2090, y: 891, parts: ['contributions (531.0 eV,'] },
  { x: 2090, y: 963, parts: [['533.0 eV', 'i'], ')'] },
  { x: 2090, y: 1252, parts: ['Offering 2.7\u00b710', ['9', 'sup'], ' L H', ['2', 'sub'], 'O'] },
  { x: 2090, y: 1327, parts: ['results in an irregular'] },
  { x: 2090, y: 1399, parts: ['structure in MIES/UPS'] },
  { x: 2090, y: 1470, parts: ['Stoichiometry:'], bold: true },
  { x: 2090, y: 1544, parts: ['Fe 2p'] }, { x: 2282, y: 1544, parts: ['29.1 at.%'] },
  { x: 2090, y: 1615, parts: ['O 1s'] }, { x: 2282, y: 1615, parts: ['70.4 at.%'] },
  { x: 2090, y: 1686, parts: ['C 1s'] }, { x: 2317, y: 1686, parts: ['0.5 at.%'] },
  { x: 2090, y: 1760, parts: ['Fe', ['2+', 'sup'], ' : Fe', ['3+', 'sup'], ' = 0.32'] },
  { x: 2090, y: 1834, parts: ['O 1s I : Fe', ['3+', 'sup'], ' = 1.96'] },
  { x: 2093, y: 1907, parts: ['XPS shows C1s signal'] },
  { x: 2090, y: 1977, parts: ['due to contamination'] },
  { x: 2094, y: 2049, parts: ['O1s shows two'] },
  { x: 2090, y: 2120, parts: ['contributions (530.8 eV,'] },
  { x: 2090, y: 2194, parts: ['532.1 eV)'] }
];
const tg = svg.append('g');
textLines.forEach(l => {
  const t = rich(tg, l.x, l.y, l.parts, 63, { weight: l.bold ? 'bold' : null, sub: [0.5, 0.2], sup: [0.5, -0.45] });
  if (l.bold) {
    const w = t.node().getComputedTextLength();
    tg.append('line').attr('x1', l.x - 2).attr('x2', l.x + w).attr('y1', l.y + 5).attr('y2', l.y + 5)
      .attr('stroke', '#000').attr('stroke-width', 4);
  }
});

// separator between the two summaries
svg.append('line').attr('x1', 2002).attr('x2', 2831).attr('y1', 1113).attr('y2', 1113)
  .attr('stroke', GREEN).attr('stroke-width', 5);
</script>
</body>
</html>
